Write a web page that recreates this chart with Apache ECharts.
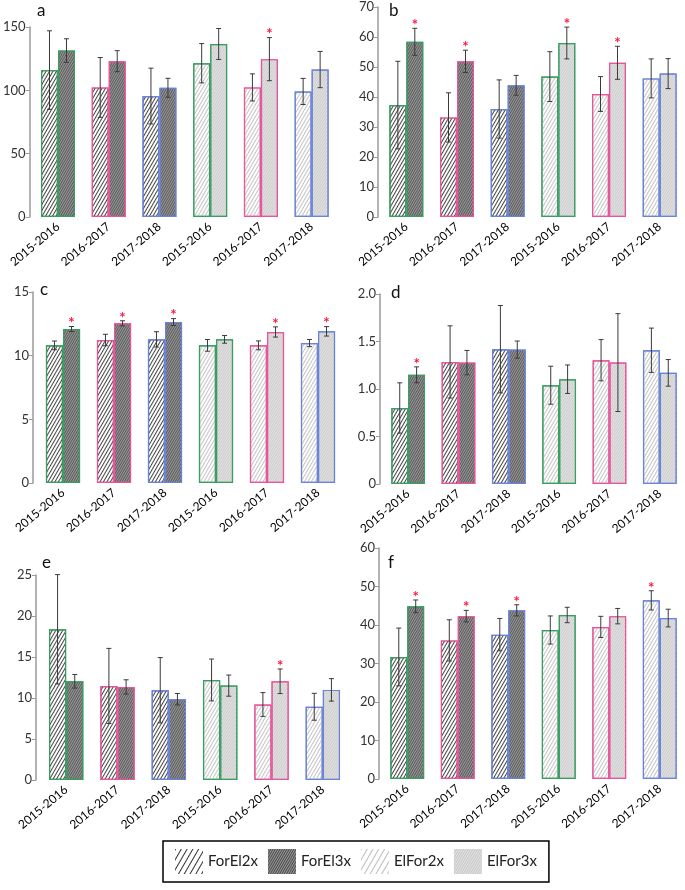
<!DOCTYPE html>
<html><head><meta charset="utf-8">
<script src="https://cdn.jsdelivr.net/npm/echarts@6/dist/echarts.min.js"></script>
<style>html,body{margin:0;padding:0;background:#fff}#c{width:685px;height:890px}</style>
</head><body><div id="c"></div>
<script>
// ---------- data ----------
const categories = ['2015-2016','2016-2017','2017-2018','2015-2016','2016-2017','2017-2018'];
const seriesNames = ['ForEl2x','ForEl3x','ElFor2x','ElFor3x'];

const aL = [116, 102.3, 95.5, 121.4, 102.3, 99.1];
const aLe = [31, 23.6, 22, 15.5, 10.7, 10.3];
const aR = [131.4, 123, 102, 136.6, 124.6, 116.4];
const aRe = [9.3, 8.3, 7.5, 12.2, 17, 14.3];
const aStarL = [0,0,0,0,0,0];
const aStarR = [0,0,0,0,1,0];

const bL = [37.3, 33.2, 36, 46.8, 41, 46.2];
const bLe = [14.6, 8.2, 9.7, 8.3, 5.8, 6.5];
const bR = [58.4, 51.9, 43.9, 58, 51.4, 47.8];
const bRe = [4.5, 3.7, 3.3, 5.3, 5.5, 5];
const bStarL = [0,0,0,0,0,0];
const bStarR = [1,1,0,1,1,0];

const cL = [10.81, 11.23, 11.28, 10.81, 10.81, 10.99];
const cLe = [0.34, 0.45, 0.6, 0.46, 0.35, 0.28];
const cR = [12.09, 12.54, 12.64, 11.28, 11.86, 11.91];
const cRe = [0.2, 0.2, 0.27, 0.3, 0.4, 0.37];
const cStarL = [0,0,0,0,0,0];
const cStarR = [1,1,1,0,1,1];

const dL = [0.8, 1.285, 1.419, 1.04, 1.303, 1.408];
const dLe = [0.265, 0.38, 0.46, 0.2, 0.217, 0.233];
const dR = [1.149, 1.278, 1.415, 1.103, 1.278, 1.17];
const dRe = [0.084, 0.128, 0.09, 0.15, 0.515, 0.14];
const dStarL = [0,0,0,0,0,0];
const dStarR = [1,0,0,0,0,0];

const eL = [18.38, 11.47, 10.95, 12.2, 9.21, 8.93];
const eLe = [6.67, 4.58, 3.98, 2.55, 1.45, 1.64];
const eR = [12.04, 11.35, 9.85, 11.51, 12.04, 10.99];
const eRe = [0.83, 0.87, 0.7, 1.29, 1.5, 1.37];
const eStarL = [0,0,0,0,0,0];
const eStarR = [0,0,0,0,1,0];

const fL = [31.7, 36, 37.5, 38.7, 39.5, 46.4];
const fLe = [7.5, 5.35, 4.2, 3.65, 2.75, 2.5];
const fR = [44.85, 42.3, 43.8, 42.6, 42.3, 41.8];
const fRe = [1.65, 1.5, 1.45, 2, 2, 2.3];
const fStarL = [0,0,0,0,0,1];
const fStarR = [1,1,1,0,0,0];

const yMax = [150, 70, 15, 2, 25, 60];
const yInterval = [50, 10, 5, 0.5, 5, 10];

// ---------- layout / style ----------
const panels = [
  {letter:'a', L:aL, Le:aLe, R:aR, Re:aRe, sL:aStarL, sR:aStarR, grid:{left:31, top:27, width:306, height:190}, off:3, lp:[37,11]},
  {letter:'b', L:bL, Le:bLe, R:bR, Re:bRe, sL:bStarL, sR:bStarR, grid:{left:381, top:7, width:308, height:210}, off:3, lp:[389,11]},
  {letter:'c', L:cL, Le:cLe, R:cR, Re:cRe, sL:cStarL, sR:cStarR, grid:{left:37.5, top:292, width:306, height:191}, off:4.5, lp:[40,290]},
  {letter:'d', L:dL, Le:dLe, R:dR, Re:dRe, sL:dStarL, sR:dStarR, grid:{left:383, top:294, width:307, height:190}, off:3, lp:[391,293]},
  {letter:'e', L:eL, Le:eLe, R:eR, Re:eRe, sL:eStarL, sR:eStarR, grid:{left:40.5, top:575, width:308, height:205}, off:4.5, lp:[42,563]},
  {letter:'f', L:fL, Le:fLe, R:fR, Re:fRe, sL:fStarL, sR:fStarR, grid:{left:382, top:548, width:310, height:231}, off:3, lp:[388,563]}
];
const groupColors = ['#3a9e62','#e8559b','#6a84d8','#3a9e62','#e8559b','#6a84d8'];
const GAP = 0.33;
const FONT = 'Lato';

function hatch(lineColor, dy, rot) {
  return {symbol:'rect', symbolSize:1, dashArrayX:[1,0], dashArrayY:dy, rotation:rot, color:lineColor};
}
const ROT = -Math.PI/3;
const patterns = {
  ForEl2x: {color:'#ffffff', decal: hatch('#444444', [0.8, 2], ROT)},
  ForEl3x: {color:'#9a9a9a', decal: hatch('#5a5a5a', [0.7, 1], ROT)},
  ElFor2x: {color:'#ffffff', decal: hatch('#c4c4c4', [0.8, 2], ROT)},
  ElFor3x: {color:'#e2e2e2', decal: hatch('#cdcdcd', [0.7, 1], ROT)}
};
const legendPatterns = {
  ForEl2x: {color:'#ffffff', decal: hatch('#333', [1, 3.5], ROT)},
  ForEl3x: {color:'#9a9a9a', decal: hatch('#4a4a4a', [0.7, 1], ROT)},
  ElFor2x: {color:'#ffffff', decal: hatch('#bbb', [1, 3.5], ROT)},
  ElFor3x: {color:'#e2e2e2', decal: hatch('#c8c8c8', [0.7, 1], ROT)}
};

const grids = [], xAxes = [], yAxes = [], series = [], graphics = [];

panels.forEach((p, k) => {
  grids.push(p.grid);
  xAxes.push({
    type:'category', gridIndex:k, data:categories,
    axisLine:{show:false}, axisTick:{show:false},
    axisLabel:{interval:0, rotate:40, margin:8, fontSize:12, color:'#000', fontFamily:FONT}
  });
  yAxes.push({
    type:'value', gridIndex:k, min:0, max:yMax[k], interval:yInterval[k], offset:p.off,
    splitLine:{show:false},
    axisLine:{show:true, lineStyle:{color:'#9a9a9a', width:1.5}},
    axisTick:{show:true, length:4, lineStyle:{color:'#9a9a9a'}},
    axisLabel:{fontSize:13, color:'#333', fontFamily:FONT, margin:4,
      formatter: k === 3 ? (v => v === 0 ? '0' : v.toFixed(1)) : undefined}
  });
  const mk = (vals, side) => vals.map((v, i) => {
    const pat = patterns[side === 0 ? (i < 3 ? 'ForEl2x' : 'ElFor2x') : (i < 3 ? 'ForEl3x' : 'ElFor3x')];
    return {value:v, itemStyle:{color:pat.color, decal:pat.decal, borderColor:groupColors[i], borderWidth:1.2}};
  });
  series.push({type:'bar', xAxisIndex:k, yAxisIndex:k, data:mk(p.L, 0), barGap:'0%', barCategoryGap:(GAP*100)+'%', silent:true});
  series.push({type:'bar', xAxisIndex:k, yAxisIndex:k, data:mk(p.R, 1), barGap:'0%', barCategoryGap:(GAP*100)+'%', silent:true});
  const errData = [];
  p.L.forEach((v, i) => errData.push([i, v, p.Le[i], 0, p.sL[i]]));
  p.R.forEach((v, i) => errData.push([i, v, p.Re[i], 1, p.sR[i]]));
  series.push({
    type:'custom', xAxisIndex:k, yAxisIndex:k, data:errData, z:5, silent:true,
    encode:{x:0, y:1},
    renderItem:(params, api) => {
      const cat = api.value(0), m = api.value(1), se = api.value(2), side = api.value(3), star = api.value(4);
      const cw = api.size([1, 0])[0];
      const bw = cw * (1 - GAP) / 2;
      const xc = api.coord([cat, m])[0] + (side ? bw / 2 : -bw / 2);
      const yT = api.coord([cat, m + se])[1];
      const yB = api.coord([cat, m - se])[1];
      const st = {stroke:'#3a3a3a', lineWidth:1};
      const ch = [
        {type:'line', shape:{x1:xc, y1:yT, x2:xc, y2:yB}, style:st},
        {type:'line', shape:{x1:xc-2.5, y1:yT, x2:xc+2.5, y2:yT}, style:st},
        {type:'line', shape:{x1:xc-2.5, y1:yB, x2:xc+2.5, y2:yB}, style:st}
      ];
      if (star) ch.push({type:'text', x:xc, y:yT-3, style:{text:'*', fill:'#ff1744', font:'bold 15px ' + FONT, align:'center', verticalAlign:'middle'}});
      return {type:'group', children:ch};
    }
  });
  graphics.push({type:'text', left:p.lp[0], top:p.lp[1]-9, style:{text:p.letter, font:'17px ' + FONT, fill:'#111'}});
});

// hidden grid for legend series
grids.push({left:0, top:0, width:1, height:1, show:false});
xAxes.push({type:'category', gridIndex:6, show:false, data:['x']});
yAxes.push({type:'value', gridIndex:6, show:false});
seriesNames.forEach(n => {
  series.push({type:'bar', name:n, xAxisIndex:6, yAxisIndex:6, data:[], itemStyle:{color:legendPatterns[n].color, decal:legendPatterns[n].decal}});
});

const chart = echarts.init(document.getElementById('c'), null, {renderer:'canvas'});
chart.setOption({
  animation:false,
  backgroundColor:'#fff',
  textStyle:{fontFamily:FONT},
  grid:grids, xAxis:xAxes, yAxis:yAxes, series:series,
  legend:{
    data:seriesNames, left:163, top:841, orient:'horizontal', icon:'rect',
    itemWidth:28, itemHeight:25, itemGap:10, selectedMode:false,
    borderColor:'#000', borderWidth:1.5, padding:[8, 12, 8, 12],
    textStyle:{fontSize:15, color:'#222', fontFamily:FONT}
  },
  graphic:graphics
});
</script></body></html>
